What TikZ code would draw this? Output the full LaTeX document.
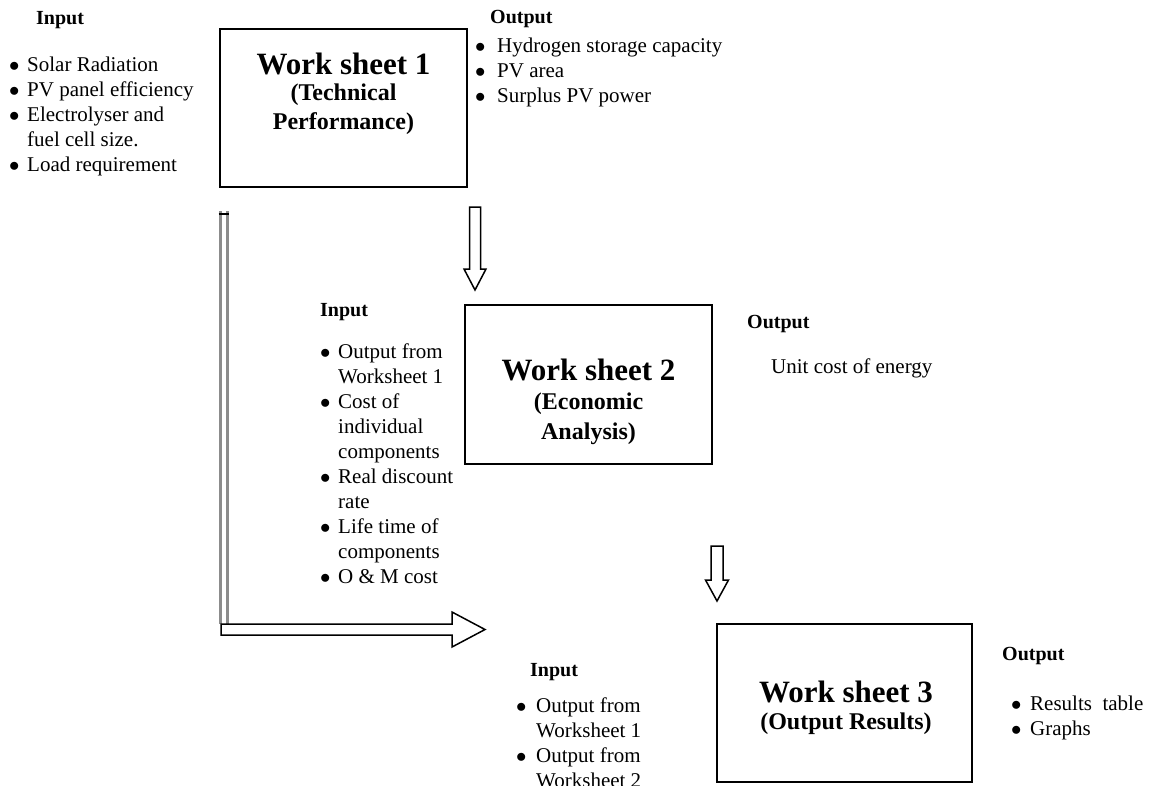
\documentclass[tikz,border=0pt]{standalone}
\usepackage{fontspec}
\setmainfont{Liberation Serif}
\begin{document}
\begin{tikzpicture}[x=1pt,y=-1pt,
  box/.style={draw,line width=1.6pt,inner sep=0pt},
  wstitle/.style={inner sep=0pt,font=\fontsize{31}{34}\selectfont\bfseries},
  wssub/.style={inner sep=0pt,font=\fontsize{24}{28}\selectfont\bfseries},
  lbl/.style={anchor=west,font=\fontsize{20}{24}\selectfont\bfseries,inner sep=0pt},
  blist/.style={anchor=north west,align=left,inner sep=0pt,font=\fontsize{21}{25}\selectfont},
  body/.style={anchor=west,inner sep=0pt,font=\fontsize{21}{25}\selectfont},
  barrow/.style={draw,fill=white,line width=1.5pt,line join=miter},
  grayline/.style={draw=black!45,line width=3pt}
]
\useasboundingbox (0,0) rectangle (1153,785);
\newcommand{\bl}[1]{\makebox[#1][l]{$\bullet$}}
% boxes
\node[box,minimum width=247pt,minimum height=158pt] (ws1) at (343.5,108) {};
\node[box,minimum width=247pt,minimum height=159pt] (ws2) at (588.5,384.5) {};
\node[box,minimum width=255pt,minimum height=158pt] (ws3) at (844.5,703) {};
% titles
\node[wstitle] (t1) at (343.5,64) {Work sheet 1};
\node[wssub] (t1a) at (343.5,95) {(Technical};
\node[wssub] (t1b) at (343.5,124) {Performance)};
\node[wstitle] (t2) at (588.5,370) {Work sheet 2};
\node[wssub] (t2a) at (588.5,404) {(Economic};
\node[wssub] (t2b) at (588.5,434) {Analysis)};
\node[wstitle] (t3) at (846,692) {Work sheet 3};
\node[wssub] (t3a) at (846,724) {(Output Results)};
% top-left input
\node[lbl] (in1) at (36,20) {Input};
\node[blist] (in1l) at (9,57) {\bl{18pt}Solar Radiation\\\bl{18pt}PV panel efficiency\\\bl{18pt}Electrolyser and\\\hspace*{18pt}fuel cell size.\\\bl{18pt}Load requirement};
% top output
\node[lbl] (out1) at (490,19) {Output};
\node[blist] (out1l) at (475,38) {\bl{22pt}Hydrogen storage capacity\\\bl{22pt}PV area\\\bl{22pt}Surplus PV power};
% ws2 input
\node[lbl] (in2) at (320,312) {Input};
\node[blist] (in2l) at (320,344) {\bl{18pt}Output from\\\hspace*{18pt}Worksheet 1\\\bl{18pt}Cost of\\\hspace*{18pt}individual\\\hspace*{18pt}components\\\bl{18pt}Real discount\\\hspace*{18pt}rate\\\bl{18pt}Life time of\\\hspace*{18pt}components\\\bl{18pt}O \& M cost};
% ws2 output
\node[lbl] (out2) at (747,324) {Output};
\node[body] (out2t) at (771,368) {Unit cost of energy};
% ws3 input
\node[lbl] (in3) at (530,672) {Input};
\node[blist] (in3l) at (516,697) {\bl{20pt}Output from\\\hspace*{20pt}Worksheet 1\\\bl{20pt}Output from\\\hspace*{20pt}Worksheet 2};
% ws3 output
\node[lbl] (out3) at (1002,656) {Output};
\node[blist] (out3l) at (1011,696) {\bl{19pt}Results\ \ table\\\bl{19pt}Graphs};
% block arrows
\coordinate (a1) at (475,207);
\draw[barrow] (a1) ++(-5.5,0) -- ++(11,0) -- ++(0,62) -- ++(5.5,0) -- ++(-11,21) -- ++(-11,-21) -- ++(5.5,0) -- cycle;
\coordinate (a2) at (717,546);
\draw[barrow] (a2) ++(-6,0) -- ++(12,0) -- ++(0,34) -- ++(5.5,0) -- ++(-11.5,21) -- ++(-11.5,-21) -- ++(5.5,0) -- cycle;
% double gray line and horizontal arrow
\coordinate (d1) at (224,211);
\coordinate (d2) at (224,624);
\draw[grayline] ([xshift=-3.5pt]d1) -- ([xshift=-3.5pt]d2);
\draw[grayline] ([xshift=3.5pt]d1) -- ([xshift=3.5pt]d2);
\draw[line width=1.5pt] ([xshift=-5.5pt,yshift=-3pt]d1) -- ([xshift=5pt,yshift=-3pt]d1);
\coordinate (h1) at (221,629.5);
\draw[barrow] (h1) ++(0,-5.5) -- ++(231,0) -- ++(0,-12) -- ++(33,17.5) -- ++(-33,17.5) -- ++(0,-12) -- ++(-231,0) -- cycle;
\end{tikzpicture}
\end{document}
